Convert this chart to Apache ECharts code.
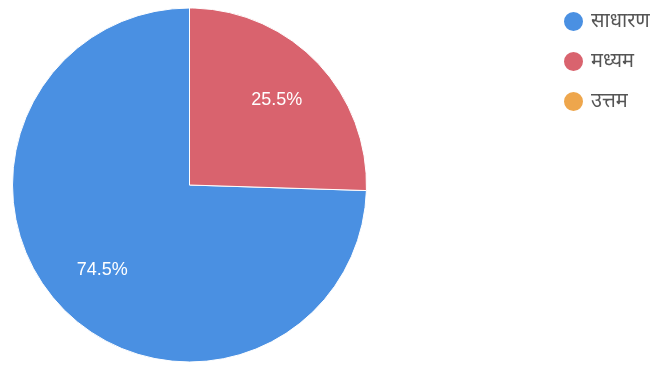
<!DOCTYPE html>
<html><head><meta charset="utf-8">
<script src="https://cdn.jsdelivr.net/npm/echarts@6/dist/echarts.min.js"></script>
<style>html,body{margin:0;padding:0;background:#fff}#c{width:671px;height:367px}</style>
</head><body><div id="c"></div>
<script>
const categories = ['साधारण', 'मध्यम', 'उत्तम'];
const values = [74.5, 25.5, 0];
const colors = ['#4a90e2', '#d9636e', '#eea64c'];

const data = categories.map((n, i) => ({ name: n, value: values[i] }));
const chart = echarts.init(document.getElementById('c'), null, { renderer: 'canvas' });
chart.setOption({
  backgroundColor: '#ffffff',
  color: colors,
  animation: false,
  legend: {
    orient: 'vertical',
    left: 562,
    top: 10,
    icon: 'circle',
    itemWidth: 21,
    itemHeight: 21,
    itemGap: 17,
    padding: 0,
    textStyle: { fontSize: 20, color: '#555', fontFamily: 'Noto Sans, sans-serif', padding: [0, 0, 0, 2] },
    data: categories
  },
  series: [
    {
      type: 'pie',
      center: [189.5, 185],
      radius: [0, 177],
      startAngle: 90,
      clockwise: false,
      data: data,
      label: { show: false },
      labelLine: { show: false },
      itemStyle: { borderColor: '#ffffff', borderWidth: 1 },
      emphasis: { disabled: true }
    },
    {
      type: 'pie',
      center: [189.5, 185],
      radius: [60, 177],
      startAngle: 90,
      clockwise: false,
      silent: true,
      data: data,
      legendHoverLink: false,
      itemStyle: { color: 'rgba(0,0,0,0)' },
      label: {
        show: true,
        position: 'inside',
        color: '#ffffff',
        fontSize: 18,
        fontFamily: 'Arial, Liberation Sans, sans-serif',
        formatter: p => p.value > 0 ? p.value.toFixed(1) + '%' : ''
      },
      labelLine: { show: false },
      emphasis: { disabled: true }
    }
  ]
});
</script></body></html>
